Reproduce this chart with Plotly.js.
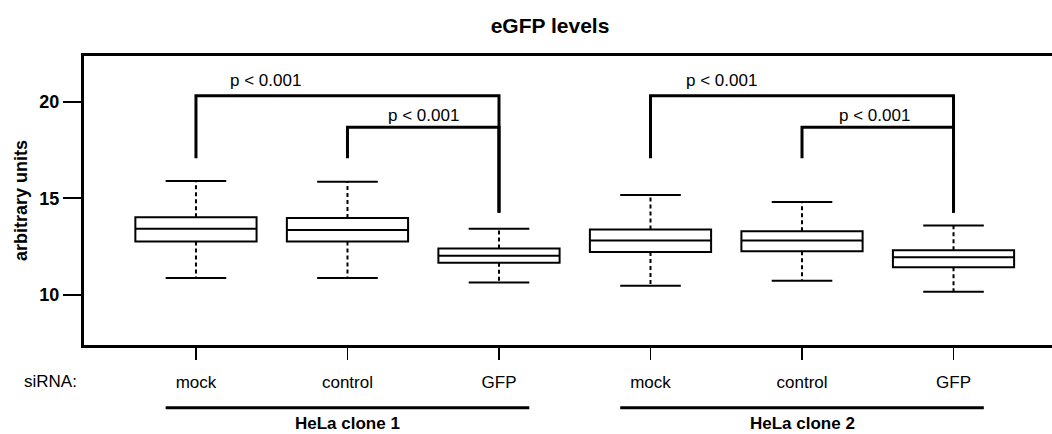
<!DOCTYPE html>
<html>
<head>
<meta charset="utf-8">
<script src="https://cdn.plot.ly/plotly-3.0.1.min.js"></script>
<style>html,body{margin:0;padding:0;background:#fff;}#chart{width:1052px;height:434px;}</style>
</head>
<body>
<div id="chart"></div>
<script>
// ---- data ----
const positions   = [1, 2, 3, 4, 5, 6];
const siRNA       = ["mock", "control", "GFP", "mock", "control", "GFP"];
const lowerWhisk  = [10.87, 10.88, 10.64, 10.48, 10.74, 10.17];
const q1          = [12.77, 12.76, 11.67, 12.22, 12.26, 11.43];
const medians     = [13.42, 13.36, 12.03, 12.81, 12.81, 11.95];
const q3          = [14.02, 13.98, 12.40, 13.38, 13.29, 12.31];
const upperWhisk  = [15.90, 15.86, 13.43, 15.17, 14.81, 13.59];

const bracketFrom     = [1, 2, 4, 5];
const bracketTo       = [3, 3, 6, 6];
const bracketHeight   = [20.31, 18.67, 20.31, 18.67];
const bracketLeftEnd  = [17.07, 17.07, 17.07, 17.07];
const bracketRightEnd = [14.25, 14.25, 14.25, 14.25];
const pLabelX         = [1.46, 2.50, 4.47, 5.48];
const pLabelY         = [21.09, 19.28, 21.09, 19.28];
const pLabelText      = ["p < 0.001", "p < 0.001", "p < 0.001", "p < 0.001"];

const groupNames = ["HeLa clone 1", "HeLa clone 2"];
const groupStart = [0.8, 3.8];
const groupEnd   = [3.2, 6.2];
const groupMid   = [2, 5];

const yTicks = [10, 15, 20];

// ---- build traces ----
const FONT = "Liberation Sans, Arial, Helvetica, sans-serif";
const boxHalf = 0.4, capHalf = 0.2;

const boxTrace = {
  type: "box",
  x: positions,
  q1: q1, median: medians, q3: q3,
  lowerfence: q1, upperfence: q3,
  width: 2 * boxHalf,
  whiskerwidth: 0,
  boxpoints: false,
  fillcolor: "#ffffff",
  line: {color: "#000000", width: 2},
  hoverinfo: "skip",
  showlegend: false
};

const wx = [], wy = [], cx = [], cy = [];
positions.forEach((p, i) => {
  wx.push(p, p, null, p, p, null);
  wy.push(q3[i], upperWhisk[i], null, q1[i], lowerWhisk[i], null);
  cx.push(p - capHalf, p + capHalf, null, p - capHalf, p + capHalf, null);
  cy.push(upperWhisk[i], upperWhisk[i], null, lowerWhisk[i], lowerWhisk[i], null);
});
const whiskerTrace = {
  type: "scatter", mode: "lines", x: wx, y: wy,
  line: {color: "#000", width: 2, dash: "4px,3px"},
  hoverinfo: "skip", showlegend: false
};
const capTrace = {
  type: "scatter", mode: "lines", x: cx, y: cy,
  line: {color: "#000", width: 2},
  hoverinfo: "skip", showlegend: false
};

const bx = [], by = [];
bracketFrom.forEach((f, i) => {
  bx.push(f, f, bracketTo[i], bracketTo[i], null);
  by.push(bracketLeftEnd[i], bracketHeight[i], bracketHeight[i], bracketRightEnd[i], null);
});
const bracketTrace = {
  type: "scatter", mode: "lines", x: bx, y: by,
  line: {color: "#000", width: 3},
  hoverinfo: "skip", showlegend: false
};

const annotations = [];
pLabelX.forEach((x, i) => annotations.push({
  x: x, y: pLabelY[i], xref: "x", yref: "y", text: pLabelText[i],
  showarrow: false, xanchor: "center", yanchor: "middle",
  font: {family: FONT, size: 17, color: "#000"}
}));
groupNames.forEach((g, i) => annotations.push({
  x: groupMid[i], y: -0.272, xref: "x", yref: "paper", text: "<b>" + g + "</b>",
  showarrow: false, xanchor: "center", yanchor: "middle",
  font: {family: FONT, size: 17, color: "#000"}
}));
annotations.push({
  x: (50 - 84) / (1052 - 84), y: -0.128, xref: "paper", yref: "paper", text: "siRNA:",
  showarrow: false, xanchor: "center", yanchor: "middle",
  font: {family: FONT, size: 17, color: "#000"}
});

const shapes = groupNames.map((g, i) => ({
  type: "line", xref: "x", yref: "paper",
  x0: groupStart[i], x1: groupEnd[i], y0: -0.217, y1: -0.217,
  line: {color: "#000", width: 3}
}));

const layout = {
  width: 1052, height: 434,
  margin: {l: 84, r: 0, t: 56, b: 89},
  paper_bgcolor: "#fff", plot_bgcolor: "#fff",
  title: {
    text: "<b>eGFP levels</b>",
    x: 550 / 1052, xanchor: "center", xref: "container",
    y: 1 - 26 / 434, yanchor: "middle", yref: "container",
    font: {family: FONT, size: 21, color: "#000"}
  },
  xaxis: {
    range: [0.261, 6.65],
    tickvals: positions, ticktext: siRNA,
    ticks: "outside", ticklen: 12, tickwidth: 1.5, tickcolor: "#000",
    ticklabelstandoff: 8,
    tickfont: {family: FONT, size: 17, color: "#000"},
    showline: true, linewidth: 3, linecolor: "#000", mirror: true,
    showgrid: false, zeroline: false, fixedrange: true
  },
  yaxis: {
    range: [7.41, 22.36],
    tickvals: yTicks,
    ticks: "outside", ticklen: 18, tickwidth: 2, tickcolor: "#000",
    tickfont: {family: FONT, size: 18, color: "#000", weight: "bold"},
    title: {text: "<b>arbitrary units</b>", standoff: 8,
            font: {family: FONT, size: 18, color: "#000"}},
    showline: true, linewidth: 3, linecolor: "#000", mirror: false,
    showgrid: false, zeroline: false, fixedrange: true
  },
  annotations: annotations,
  shapes: shapes,
  showlegend: false
};

Plotly.newPlot("chart", [boxTrace, whiskerTrace, capTrace, bracketTrace], layout,
  {displayModeBar: false, staticPlot: true});
</script>
</body>
</html>
